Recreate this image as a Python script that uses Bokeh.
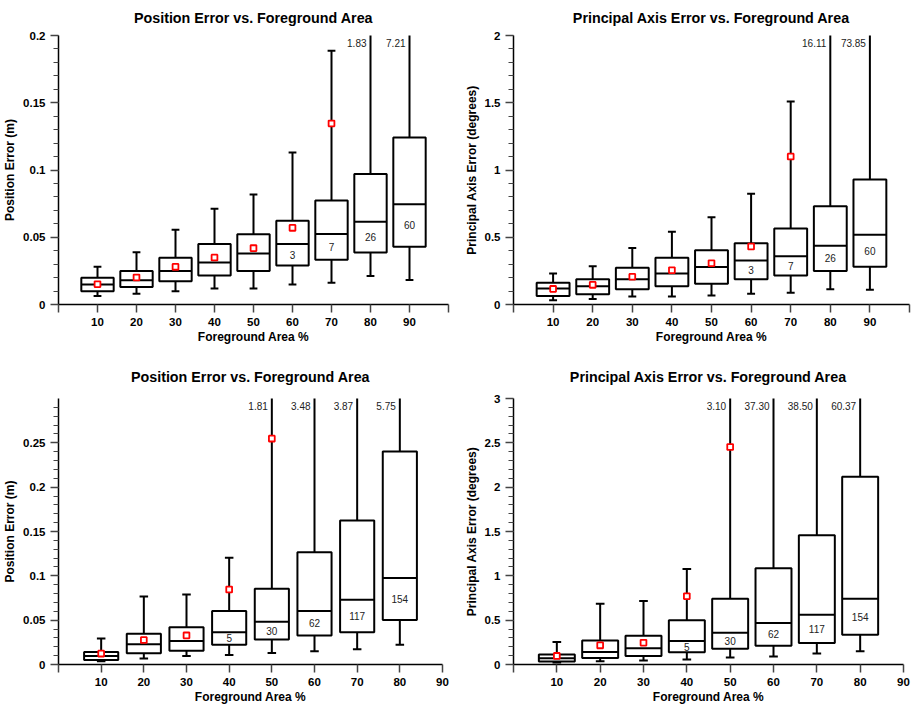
import math
from bokeh.plotting import figure
from bokeh.layouts import column, row
from bokeh.models import Range1d, FixedTicker, CustomJSTickFormatter, ColumnDataSource
from bokeh.core.properties import value
from bokeh.embed import file_html
from bokeh.resources import INLINE

nan = float("nan")

# ---------------- data ----------------
area_a = [10, 20, 30, 40, 50, 60, 70, 80, 90]
area_b = [10, 20, 30, 40, 50, 60, 70, 80]

# Panel 1: Position Error (m), first data set
pos1_q1 = [0.0099, 0.0131, 0.0173, 0.0216, 0.0250, 0.0290, 0.0332, 0.0387, 0.0429]
pos1_med = [0.0149, 0.0181, 0.0250, 0.0312, 0.0379, 0.0449, 0.0525, 0.0615, 0.0746]
pos1_q3 = [0.0198, 0.0250, 0.0347, 0.0449, 0.0523, 0.0622, 0.0773, 0.0971, 0.1242]
pos1_lo = [0.0064, 0.0079, 0.0099, 0.0119, 0.0119, 0.0149, 0.0161, 0.0211, 0.0183]
pos1_hi = [0.0280, 0.0389, 0.0555, 0.0711, 0.0818, 0.1130, 0.1886, 1.83, 7.21]
pos1_mean = [0.0151, 0.0201, 0.0280, 0.0349, 0.0419, 0.0570, 0.1346, nan, nan]
pos1_n = ["", "", "", "", "", "3", "7", "26", "60"]

# Panel 2: Principal Axis Error (degrees), first data set
ang1_q1 = [0.064, 0.077, 0.114, 0.136, 0.154, 0.188, 0.216, 0.250, 0.280]
ang1_med = [0.119, 0.136, 0.188, 0.230, 0.278, 0.327, 0.359, 0.436, 0.518]
ang1_q3 = [0.161, 0.188, 0.273, 0.347, 0.404, 0.456, 0.565, 0.731, 0.929]
ang1_lo = [0.032, 0.040, 0.060, 0.060, 0.067, 0.079, 0.087, 0.114, 0.109]
ang1_hi = [0.230, 0.285, 0.421, 0.540, 0.649, 0.823, 1.509, 16.11, 73.85]
ang1_mean = [0.116, 0.146, 0.206, 0.255, 0.307, 0.431, 1.100, nan, nan]
ang1_n = ["", "", "", "", "", "3", "7", "26", "60"]

# Panel 3: Position Error (m), second data set
pos2_q1 = [0.0052, 0.0127, 0.0156, 0.0224, 0.0283, 0.0328, 0.0365, 0.0503]
pos2_med = [0.0097, 0.0227, 0.0265, 0.0365, 0.0481, 0.0604, 0.0730, 0.0976]
pos2_q3 = [0.0142, 0.0347, 0.0421, 0.0604, 0.0853, 0.1267, 0.1624, 0.2403]
pos2_lo = [0.0037, 0.0067, 0.0097, 0.0108, 0.0130, 0.0149, 0.0171, 0.0224]
pos2_hi = [0.0294, 0.0768, 0.0790, 0.1203, 1.81, 3.48, 3.87, 5.75]
pos2_mean = [0.0123, 0.0276, 0.0328, 0.0846, 0.2548, nan, nan, nan]
pos2_n = ["", "", "", "5", "30", "62", "117", "154"]

# Panel 4: Principal Axis Error (degrees), second data set
ang2_q1 = [0.0335, 0.0744, 0.0968, 0.1377, 0.1787, 0.2122, 0.2419, 0.3350]
ang2_med = [0.0707, 0.1414, 0.1824, 0.2643, 0.3573, 0.4690, 0.5620, 0.7407]
ang2_q3 = [0.1117, 0.2717, 0.3238, 0.4988, 0.7407, 1.0868, 1.4590, 2.1178]
ang2_lo = [0.0223, 0.0372, 0.0447, 0.0558, 0.0782, 0.0893, 0.1228, 0.1489]
ang2_hi = [0.253, 0.685, 0.715, 1.076, 3.10, 37.30, 38.50, 60.37]
ang2_mean = [0.0968, 0.2159, 0.2457, 0.7705, 2.4529, nan, nan, nan]
ang2_n = ["", "", "", "5", "30", "62", "117", "154"]

TITLE_POS = "Position Error vs. Foreground Area"
TITLE_ANG = "Principal Axis Error vs. Foreground Area"
XLABEL = "Foreground Area %"
YLABEL_POS = "Position Error (m)"
YLABEL_ANG = "Principal Axis Error (degrees)"

FONT = "Liberation Sans"


def frange(a, b, step):
    n = int(round((b - a) / step))
    return [round(a + i * step, 6) for i in range(n + 1)]


def make_panel(title, ylabel, area, q1, med, q3, lo, hi, mean, counts,
               xmax, ymax, ymajor, ytick_top, yminor,
               width, height, bl, br, bt, bb, boxw, tstand, tvalign):
    p = figure(width=width, height=height, output_backend="svg",
               toolbar_location=None, x_range=Range1d(0, xmax),
               y_range=Range1d(0, ymax),
               min_border_left=bl, min_border_right=br,
               min_border_top=bt, min_border_bottom=bb,
               title=title)
    p.outline_line_color = None
    p.xgrid.visible = False
    p.ygrid.visible = False
    p.background_fill_color = "white"
    p.border_fill_color = "white"

    p.title.text_font = FONT
    p.title.text_font_size = "14.3px"
    p.title.text_font_style = "bold"
    p.title.align = "center"
    p.title.text_color = "black"
    p.title.standoff = tstand
    p.title.vertical_align = tvalign

    # axes
    xt = list(range(0, xmax + 1, 10))
    p.xaxis.ticker = FixedTicker(ticks=xt, minor_ticks=[])
    p.xaxis.formatter = CustomJSTickFormatter(
        code="return (tick == 0 || tick == 100) ? '' : String(tick);")
    yt = frange(0, ytick_top, ymajor)
    ym = frange(0, ytick_top if ytick_top >= ymax else ymax - yminor * 0.5, yminor)
    p.yaxis.ticker = FixedTicker(ticks=yt, minor_ticks=ym)
    p.yaxis.formatter = CustomJSTickFormatter(
        code="return String(Math.round(tick * 1000) / 1000);")

    for ax in (p.xaxis[0], p.yaxis[0]):
        ax.axis_line_color = "black"
        ax.axis_line_width = 1.5
        ax.major_tick_line_color = "#444444"
        ax.major_tick_line_width = 1.5
        ax.minor_tick_line_color = "#444444"
        ax.minor_tick_line_width = 1.2
        ax.major_tick_in = 0
        ax.minor_tick_in = 0
        ax.major_label_text_font = FONT
        ax.major_label_text_font_style = "bold"
        ax.major_label_text_font_size = "11.5px"
        ax.major_label_text_color = "black"
        ax.axis_label_text_font = FONT
        ax.axis_label_text_font_style = "bold"
        ax.axis_label_text_font_size = "12px"
        ax.axis_label_text_color = "black"
    p.xaxis.major_tick_out = 8
    p.xaxis.major_label_standoff = 5
    p.xaxis.axis_label_standoff = 1
    p.yaxis.major_tick_out = 8
    p.yaxis.minor_tick_out = 5
    p.yaxis.major_label_standoff = 5
    p.yaxis.axis_label_standoff = 3
    p.xaxis.axis_label = XLABEL
    p.yaxis.axis_label = ylabel

    half = boxw / 2.0
    cap = 1.0
    src = ColumnDataSource(dict(
        x=area, q1=q1, med=med, q3=q3, lo=lo, hi=hi,
        left=[a - half for a in area], right=[a + half for a in area],
        cl=[a - cap for a in area], cr=[a + cap for a in area],
        nmid=[(m + b) / 2.0 for m, b in zip(med, q1)], n=counts,
    ))
    # whiskers
    p.segment(x0="x", y0="q3", x1="x", y1="hi", source=src,
              line_color="black", line_width=2)
    p.segment(x0="x", y0="lo", x1="x", y1="q1", source=src,
              line_color="black", line_width=2)
    p.segment(x0="cl", y0="hi", x1="cr", y1="hi", source=src,
              line_color="black", line_width=2)
    p.segment(x0="cl", y0="lo", x1="cr", y1="lo", source=src,
              line_color="black", line_width=2)
    # boxes
    p.quad(left="left", right="right", bottom="q1", top="q3", source=src,
           fill_color="white", line_color="black", line_width=2)
    p.segment(x0="left", y0="med", x1="right", y1="med", source=src,
              line_color="black", line_width=2)
    # counts
    p.text(x="x", y="nmid", text="n", source=src, text_align="center",
           text_baseline="middle", text_font=value(FONT),
           text_font_size="10px", text_color="#222222")
    # means
    p.scatter(x=area, y=mean, marker="square", size=5.8, line_color="red",
              line_width=1.8, fill_color="white")
    # labels for whiskers beyond the axis
    ox = [a for a, h in zip(area, hi) if h > ymax]
    ot = ["%.2f" % h for h in hi if h > ymax]
    p.text(x=ox, y=[ymax] * len(ox), text=ot, text_align="right",
           text_baseline="middle", x_offset=-4, y_offset=7.5,
           text_font=value(FONT), text_font_size="10px",
           text_color="#222222")
    return p


p1 = make_panel(TITLE_POS, YLABEL_POS, area_a, pos1_q1, pos1_med, pos1_q3,
                pos1_lo, pos1_hi, pos1_mean, pos1_n,
                100, 0.2, 0.05, 0.2, 0.01,
                459, 352, 58, 11, 35, 48, 8.3, 16, "top")
p2 = make_panel(TITLE_ANG, YLABEL_ANG, area_a, ang1_q1, ang1_med, ang1_q3,
                ang1_lo, ang1_hi, ang1_mean, ang1_n,
                100, 2.0, 0.5, 2.0, 0.1,
                456, 352, 54, 6, 35, 48, 8.3, 16, "top")
p3 = make_panel(TITLE_POS, YLABEL_POS, area_b, pos2_q1, pos2_med, pos2_q3,
                pos2_lo, pos2_hi, pos2_mean, pos2_n,
                90, 0.3, 0.05, 0.25, 0.01,
                459, 354, 58, 17, 46, 40, 8.0, 28, "bottom")
p4 = make_panel(TITLE_ANG, YLABEL_ANG, area_b, ang2_q1, ang2_med, ang2_q3,
                ang2_lo, ang2_hi, ang2_mean, ang2_n,
                90, 3.0, 0.5, 3.0, 0.1,
                456, 354, 54, 12, 46, 40, 8.3, 28, "bottom")

layout = column(row(p1, p2), row(p3, p4))
open("out.html", "w").write(file_html(layout, INLINE))
